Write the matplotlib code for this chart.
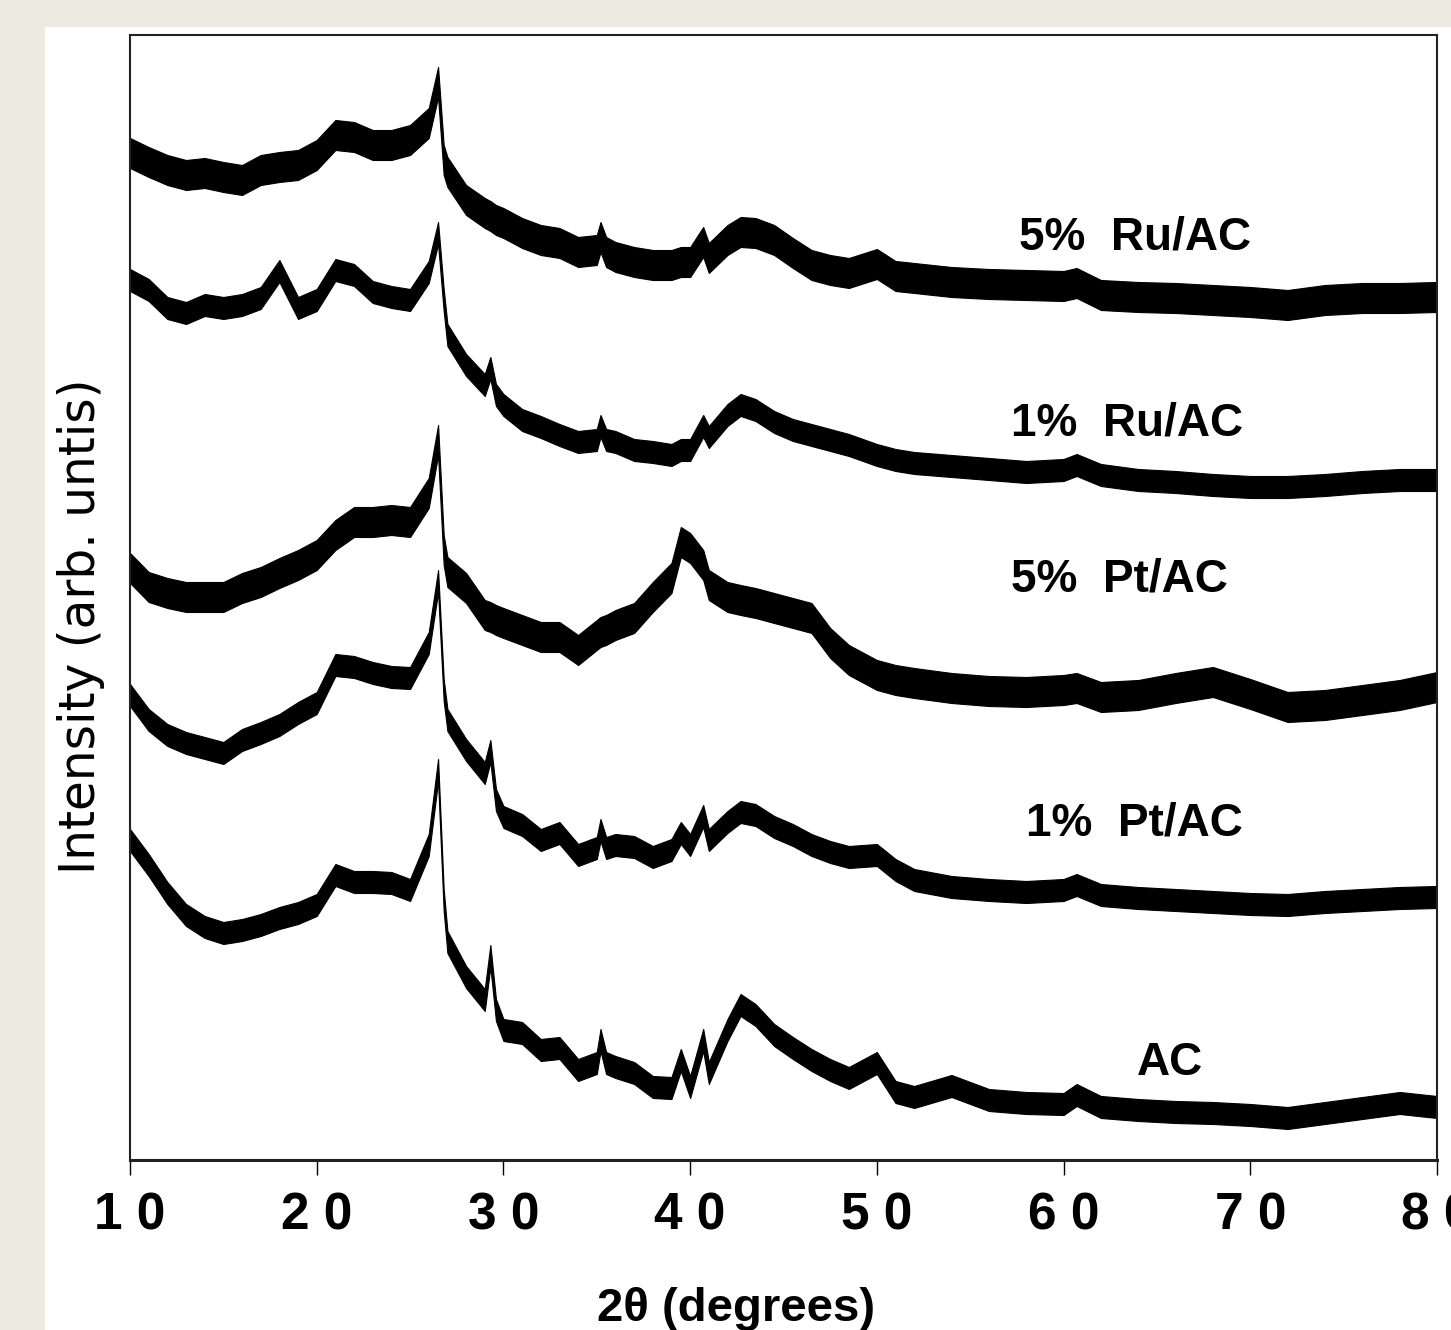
import numpy as np
import matplotlib.pyplot as plt
from matplotlib.patches import Rectangle

# 2-theta positions (degrees) at which the patterns were read
two_theta = [10, 11, 12, 13, 14, 15, 16, 17, 18, 19, 20, 21, 22, 23, 24, 25, 26,
             26.5, 26.8, 27, 28, 29, 29.3, 29.6, 30, 31, 32, 33, 34, 35,
             35.2, 35.5, 36, 37, 38, 39, 39.5, 40, 40.7, 41, 42, 42.7,
             43.5, 44.5, 45.5, 46.5, 47.5, 48.5, 50, 51, 52,
             54, 56, 58, 60, 60.7, 62, 64, 66, 68, 70, 72, 74, 76, 78, 80]

# stacked intensities (arb. units), centre of the noisy trace
ru5 = [1007, 998, 990, 985, 987, 983, 980, 990, 993, 995, 1005, 1025, 1023, 1015, 1015, 1020, 1037,
       1078, 1000, 988, 960, 947, 944, 940, 937, 927, 920, 917, 908, 910,
       923, 908, 903, 898, 895, 895, 898, 898, 918, 902, 920, 928,
       927, 920, 907, 895, 890, 887, 896, 884, 882,
       878, 876, 875, 874, 877, 865, 863, 862, 860, 858, 855, 860, 862, 862, 863]
ru1 = [880, 870, 852, 847, 855, 852, 855, 862, 889, 852, 860, 890, 885, 868, 863, 860, 888,
       927, 860, 825, 795, 775, 792, 765, 755, 740, 733, 725, 718, 720,
       734, 720, 718, 710, 708, 705, 710, 710, 734, 723, 745, 755,
       750, 738, 730, 725, 720, 715, 705, 700, 697,
       694, 691, 688, 690, 695, 685, 680, 678, 675, 673, 673, 675, 678, 680, 680]
pt5 = [592, 573, 567, 563, 563, 563, 572, 578, 587, 595, 605, 625, 638, 638, 640, 638, 667,
       720, 610, 588, 572, 545, 543, 540, 537, 530, 523, 523, 510, 525,
       528, 530, 535, 542, 563, 582, 618, 612, 595, 575, 563, 560,
       557, 552, 547, 542, 517, 500, 485, 480, 477,
       472, 469, 468, 470, 472, 463, 465, 472, 478, 466, 453, 455, 460, 465, 473]
pt1 = [465, 440, 425, 417, 412, 407, 420, 427, 435, 447, 457, 495, 493, 487, 483, 482, 517,
       579, 470, 440, 410, 387, 409, 360, 343, 335, 320, 327, 305, 312,
       330, 312, 315, 313, 303, 310, 327, 315, 344, 320, 338, 348,
       345, 333, 325, 315, 308, 303, 305, 290, 280,
       273, 270, 268, 270, 275, 265, 262, 260, 258, 256, 255, 258, 260, 262, 263]
ac = [320, 295, 267, 245, 233, 227, 230, 235, 242, 247, 255, 285, 278, 278, 277, 270, 315,
      390, 260, 218, 183, 160, 204, 150, 130, 127, 110, 112, 90, 97,
      120, 97, 93, 87, 73, 72, 100, 73, 120, 87, 130, 155,
      145, 125, 112, 100, 90, 82, 97, 68, 63,
      74, 60, 57, 56, 65, 53, 50, 48, 47, 45, 42, 47, 52, 57, 53]

# half width of the noise band of each trace (arb. units)
noise = [15, 11, 15, 11, 11]

names = ['5%  Ru/AC', '1%  Ru/AC', '5%  Pt/AC', '1%  Pt/AC', 'AC']
name_x = [63.8, 63.4, 63.0, 63.8, 65.7]
name_y = [910, 725, 568, 325, 85]

tick_vals = [10, 20, 30, 40, 50, 60, 70, 80]
tick_text = ['1 0', '2 0', '3 0', '4 0', '5 0', '6 0', '7 0', '8 0']

W, H = 1451, 1330
narrow = ['Liberation Sans Narrow', 'Liberation Sans', 'DejaVu Sans']

fig = plt.figure(figsize=(W / 100, H / 100), dpi=100, facecolor='#EDEAE0')
fig.patches.append(Rectangle((45 / W, 0), 1, (H - 27) / H, transform=fig.transFigure,
                             facecolor='white', edgecolor='none', zorder=-1))
ax = fig.add_axes([130 / W, (H - 1160) / H, (1437 - 130) / W, (1160 - 35) / H])

x = np.array(two_theta)
for y, hw in zip([ru5, ru1, pt5, pt1, ac], noise):
    y = np.array(y)
    ax.fill_between(x, y - hw, y + hw, color='black', lw=0.8)

for t, tx, ty in zip(names, name_x, name_y):
    ax.text(tx, ty, t, ha='center', va='baseline', fontsize=33, fontweight='bold',
            family=narrow)

ax.set_xlim(10, 80)
ax.set_ylim(0, 1125)
ax.set_xticks(tick_vals)
ax.set_xticklabels(tick_text, fontsize=37, fontweight='bold', family=narrow)
ax.set_yticks([])
ax.tick_params(axis='x', direction='out', length=11, width=1, pad=12)
for s in ax.spines.values():
    s.set_linewidth(1.5)
    s.set_color('#222222')
ax.spines['bottom'].set_linewidth(2.2)

ax.set_ylabel('Intensity (arb. untis)', fontsize=35)
ax.yaxis.set_label_coords(-0.019, 0.474)
ax.set_xlabel('2θ (degrees)', fontsize=34, fontweight='bold', family=narrow)
ax.xaxis.set_label_coords(0.4637, -0.113)

fig.savefig('out.png', dpi=100, facecolor=fig.get_facecolor())
